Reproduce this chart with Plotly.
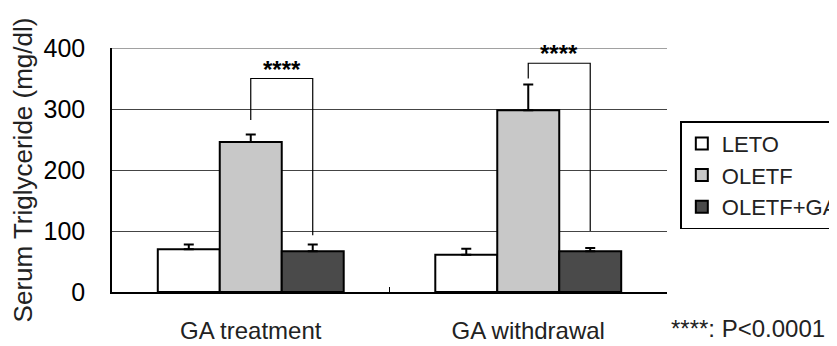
import plotly.graph_objects as go

categories = ["GA treatment", "GA withdrawal"]
groups = ["LETO", "OLETF", "OLETF+GA"]
means = {
    "LETO": [70, 61],
    "OLETF": [246, 298],
    "OLETF+GA": [67, 67],
}
errors = {
    "LETO": [8, 10],
    "OLETF": [12, 42],
    "OLETF+GA": [11, 5],
}
colors = {"LETO": "#ffffff", "OLETF": "#c8c8c8", "OLETF+GA": "#4a4a4a"}
y_ticks = [0, 100, 200, 300, 400]
# significance brackets: (category index, left-bar y, top y, right-bar y, label)
brackets = [(0, 282, 350, 93, "****"), (1, 350, 375, 100, "****")]

bargap = 0.33
bw = (1 - bargap) / 3

font = "Liberation Sans, Arial, sans-serif"

fig = go.Figure()
for g in groups:
    fig.add_trace(go.Bar(
        name=g, x=categories, y=means[g],
        marker=dict(color=colors[g], line=dict(color="black", width=2)),
        error_y=dict(type="data", symmetric=False, array=errors[g],
                     arrayminus=[0] * len(categories),
                     color="black", thickness=2, width=5),
    ))

shapes = [dict(type="line", xref="paper", yref="y", x0=0, x1=1,
               y0=y_ticks[-1], y1=y_ticks[-1],
               line=dict(color="#444444", width=1.2))]
annotations = []
for ci, yl, ytop, yr, lab in brackets:
    xl = ci
    xr = ci + bw
    shapes.append(dict(type="path", xref="x", yref="y",
                       path=f"M {xl},{yl} L {xl},{ytop} L {xr},{ytop} L {xr},{yr}",
                       line=dict(color="black", width=1.2)))
    annotations.append(dict(x=(xl + xr) / 2, y=ytop, xref="x", yref="y",
                            text="<b>" + lab + "</b>", showarrow=False,
                            yanchor="bottom", yshift=-6,
                            font=dict(size=24, color="black", family=font)))

annotations.append(dict(x=1.003, y=-0.15, xref="paper", yref="paper",
                        text="****: P<0.0001", showarrow=False,
                        xanchor="left", yanchor="middle",
                        font=dict(size=24, color="#222222", family=font)))

# page body has an 8px margin, so the figure is drawn 8px smaller and margins shifted
fig.update_layout(
    width=829, height=338,
    margin=dict(l=104, r=170, t=40, b=54, autoexpand=False),
    paper_bgcolor="white", plot_bgcolor="white",
    barmode="group", bargap=bargap, bargroupgap=0,
    font=dict(family=font, color="black"),
    shapes=shapes, annotations=annotations,
    legend=dict(x=1.024, y=0.70, xanchor="left", yanchor="top",
                bordercolor="black", borderwidth=1.5,
                font=dict(size=22, color="#222222", family=font),
                tracegroupgap=0, itemsizing="constant", itemwidth=30),
    xaxis=dict(showline=True, linecolor="black", linewidth=1.5,
               tickson="boundaries", ticks="inside", ticklen=5,
               tickcolor="black", showgrid=False, ticklabelstandoff=16,
               automargin=False,
               tickfont=dict(size=24, color="#222222", family=font)),
    yaxis=dict(range=[0, 400], tickvals=y_ticks, showline=True,
               linecolor="black", linewidth=1.5, showgrid=True,
               gridcolor="#444444", gridwidth=1.2, zeroline=False,
               ticks="", ticklabelstandoff=20, automargin=False,
               tickfont=dict(size=25, color="black", family=font),
               title=dict(text="Serum Triglyceride (mg/dl)", standoff=10,
                          font=dict(size=26, color="#222222", family=font))),
)

fig.write_html("out.html")
